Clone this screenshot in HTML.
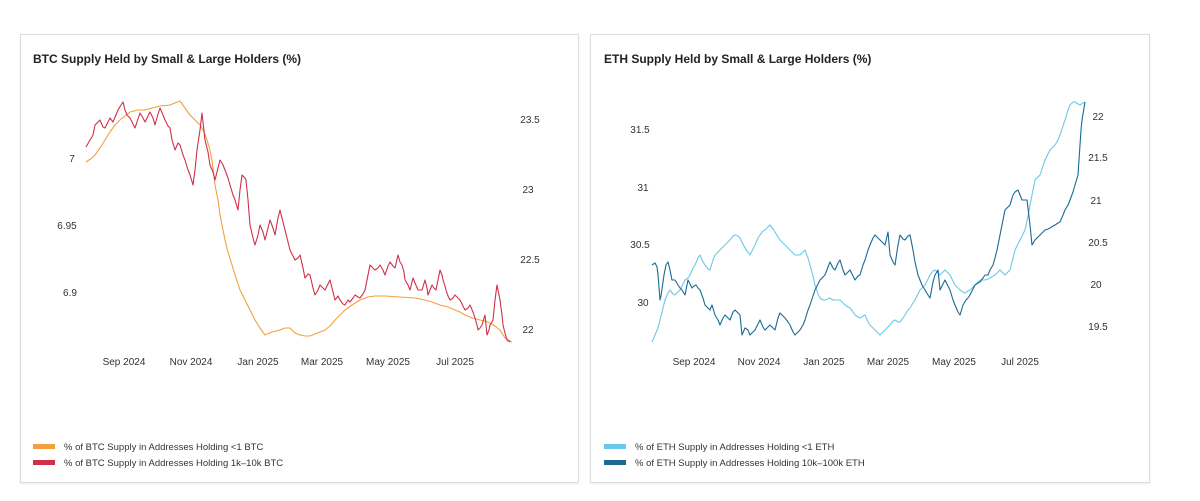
<!DOCTYPE html>
<html><head><meta charset="utf-8"><style>
body{margin:0;background:#fff;width:1200px;height:501px;overflow:hidden;font-family:"Liberation Sans",sans-serif;}
.p{position:absolute;top:34px;height:447px;border:1px solid #ddd;box-shadow:0 1px 2px rgba(0,0,0,.08);background:#fff;}
text{font-family:"Liberation Sans",sans-serif;fill:#333;font-size:10px;}
.t{font-size:12px;font-weight:bold;fill:#222;}
.l{font-size:9.5px;fill:#333;}
</style></head><body>
<div class="p" style="left:20px;width:557px"></div>
<div class="p" style="left:590px;width:558px"></div>
<svg width="1200" height="501" style="position:absolute;left:0;top:0">
<text class="t" x="33" y="63">BTC Supply Held by Small &amp; Large Holders (%)</text>
<text class="t" x="604" y="63">ETH Supply Held by Small &amp; Large Holders (%)</text>
<g text-anchor="middle">
<text x="72" y="162">7</text><text x="67" y="229">6.95</text><text x="70" y="296">6.9</text>
<text x="530" y="123">23.5</text><text x="528" y="193">23</text><text x="530" y="263">22.5</text><text x="528" y="333">22</text>
<text x="124" y="365">Sep 2024</text><text x="191" y="365">Nov 2024</text><text x="258" y="365">Jan 2025</text><text x="322" y="365">Mar 2025</text><text x="388" y="365">May 2025</text><text x="455" y="365">Jul 2025</text>
<text x="640" y="133">31.5</text><text x="643" y="191">31</text><text x="640" y="248">30.5</text><text x="643" y="306">30</text>
<text x="1098" y="120">22</text><text x="1098" y="161">21.5</text><text x="1096" y="204">21</text><text x="1098" y="246">20.5</text><text x="1096" y="288">20</text><text x="1098" y="330">19.5</text>
<text x="694" y="365">Sep 2024</text><text x="759" y="365">Nov 2024</text><text x="824" y="365">Jan 2025</text><text x="888" y="365">Mar 2025</text><text x="954" y="365">May 2025</text><text x="1020" y="365">Jul 2025</text>
</g>
<g fill="none" stroke-width="1.1" stroke-linejoin="round">
<polyline stroke="#f2a03d" points="86,162 92,158 95,155 100,148 105,140 110,132 115,125 120,120 125,116 130,112 138,110 145,110 152,108 160,106 170,105 175,103 180,101 185,108 190,115 195,120 200,125 204,132 207,140 210,150 212,160 215,185 218,200 220,215 223,230 225,240 228,252 232,265 236,278 240,290 245,300 250,310 255,320 260,328 265,335 272,332 280,330 285,328 290,328 295,333 300,335 305,336 310,336 315,334 320,332 325,330 330,326 335,320 340,315 345,310 352,305 360,300 368,297 375,296 385,296 400,297 415,298 425,300 432,302 440,305 448,307 455,310 460,312 465,315 472,318 480,320 485,321 490,323 495,326 500,330 505,338 512,342"/>
<polyline stroke="#d0304a" points="86,147 90,140 93,135 95,125 100,120 103,127 105,128 110,118 113,122 118,110 121,105 123,102 125,110 127,115 130,118 135,128 140,113 143,118 145,122 150,112 153,118 155,125 158,114 160,108 163,115 165,120 168,126 170,128 172,140 175,150 178,143 180,145 183,155 185,160 188,170 190,175 193,185 195,170 197,150 200,130 202,113 205,140 208,152 210,165 213,172 215,180 218,168 220,160 223,165 225,170 228,178 230,185 233,195 235,200 238,210 240,190 242,175 245,178 246,180 248,200 250,225 253,238 255,245 258,235 260,225 263,232 265,240 268,228 270,220 273,228 275,235 278,218 280,210 283,222 285,230 288,242 290,250 293,256 295,260 298,258 300,255 303,268 305,278 308,274 310,275 313,288 315,295 318,290 320,285 323,288 325,290 328,284 330,280 333,292 335,300 338,296 340,300 343,304 345,305 348,300 350,302 353,298 355,295 358,297 360,298 363,294 365,290 368,275 370,265 373,268 375,270 378,268 380,265 383,270 385,275 388,266 390,262 393,266 395,268 398,255 400,262 402,265 404,272 405,280 408,285 410,290 413,278 415,283 418,290 420,290 422,290 425,280 427,288 428,295 430,290 432,285 434,288 436,290 438,280 440,270 442,275 443,280 445,286 446,290 448,296 450,300 453,298 455,295 458,298 460,300 463,306 465,310 468,308 470,305 473,312 475,318 477,325 478,330 480,328 482,325 484,318 485,315 486,325 487,335 489,330 490,325 492,322 493,320 495,300 497,285 499,295 500,300 502,315 503,325 505,333 507,340 510,342"/>
<polyline stroke="#6cc8e8" points="652,342 655,335 658,328 660,320 663,308 665,300 668,293 670,290 673,294 675,295 678,292 680,290 683,284 685,280 688,278 690,275 693,268 695,265 698,258 700,255 703,262 705,265 708,269 710,270 713,260 715,255 718,252 720,250 723,247 725,245 728,242 730,240 733,236 735,235 738,236 740,238 743,244 745,248 748,252 750,255 753,249 755,245 758,238 760,235 763,231 765,230 768,227 770,225 773,229 775,232 778,237 780,240 783,243 785,245 788,248 790,250 793,253 795,255 800,255 803,252 805,250 808,258 810,265 813,276 815,285 818,294 820,298 823,300 825,300 828,299 830,298 833,300 835,300 840,300 843,303 845,305 848,307 850,308 853,312 855,315 858,317 860,318 863,316 865,315 868,322 870,325 873,328 875,330 878,333 880,335 883,332 885,330 888,327 890,325 893,321 895,320 898,322 900,322 903,318 905,315 908,310 910,308 913,303 915,300 918,294 920,290 923,287 925,285 928,279 930,275 933,271 935,270 938,273 940,275 943,272 945,270 948,273 950,275 953,281 955,285 958,288 960,290 963,292 965,293 968,291 970,290 973,287 975,285 978,282 980,280 985,280 988,279 990,278 993,276 995,275 998,272 1000,270 1003,273 1005,275 1008,272 1010,270 1013,258 1015,250 1018,244 1020,240 1023,234 1025,230 1028,216 1030,205 1033,190 1035,180 1038,177 1040,175 1043,166 1045,160 1048,154 1050,150 1053,147 1055,145 1058,140 1060,135 1063,126 1065,120 1068,110 1070,105 1073,102 1075,102 1078,104 1080,105 1083,103 1085,102"/>
<polyline stroke="#1a6a94" points="652,265 655,263 657,267 658,275 660,300 661,296 664,275 666,265 668,262 670,270 672,280 675,280 678,285 680,288 682,290 685,295 688,280 690,284 692,288 694,286 696,285 698,288 700,290 703,298 705,305 708,308 710,310 712,305 715,315 718,320 720,325 723,318 725,315 728,318 730,320 733,312 735,310 738,313 740,315 742,335 745,328 748,330 750,335 753,332 755,330 758,324 760,320 763,327 765,330 768,327 770,325 773,328 775,330 778,318 780,313 783,316 785,318 788,322 790,325 793,332 795,335 798,332 800,330 803,325 805,320 808,310 810,305 813,296 815,290 818,284 820,280 823,277 825,275 828,267 830,262 833,268 835,270 838,263 840,260 843,270 845,275 848,272 850,270 853,276 855,280 858,276 860,275 863,265 865,260 868,250 870,245 873,238 875,235 878,238 880,240 883,243 885,245 888,232 890,255 893,262 895,265 898,245 900,235 903,239 905,240 908,236 910,235 913,250 915,262 918,275 920,280 922,285 925,290 928,295 930,298 933,282 935,275 938,270 940,290 943,284 945,280 948,286 950,290 953,300 955,305 958,312 960,315 963,305 966,300 968,298 970,295 973,289 975,285 978,283 980,282 983,278 985,275 988,275 990,270 993,265 995,258 997,250 1000,235 1003,220 1005,210 1008,207 1010,205 1013,195 1015,192 1018,190 1020,195 1022,200 1025,200 1027,200 1030,225 1032,245 1035,240 1038,237 1040,235 1043,232 1045,230 1048,229 1050,228 1053,226 1055,225 1058,223 1060,222 1063,215 1065,210 1068,205 1070,200 1073,192 1075,185 1078,175 1079,160 1080,145 1081,130 1082,120 1084,108 1085,102"/>
</g>
<rect x="33" y="444" width="22" height="5" fill="#f2a03d"/><text class="l" x="64" y="450">% of BTC Supply in Addresses Holding &lt;1 BTC</text>
<rect x="33" y="460" width="22" height="5" fill="#d0304a"/><text class="l" x="64" y="466">% of BTC Supply in Addresses Holding 1k–10k BTC</text>
<rect x="604" y="444" width="22" height="5" fill="#6cc8e8"/><text class="l" x="635" y="450">% of ETH Supply in Addresses Holding &lt;1 ETH</text>
<rect x="604" y="460" width="22" height="5" fill="#1a6a94"/><text class="l" x="635" y="466">% of ETH Supply in Addresses Holding 10k–100k ETH</text>
</svg>
</body></html>
